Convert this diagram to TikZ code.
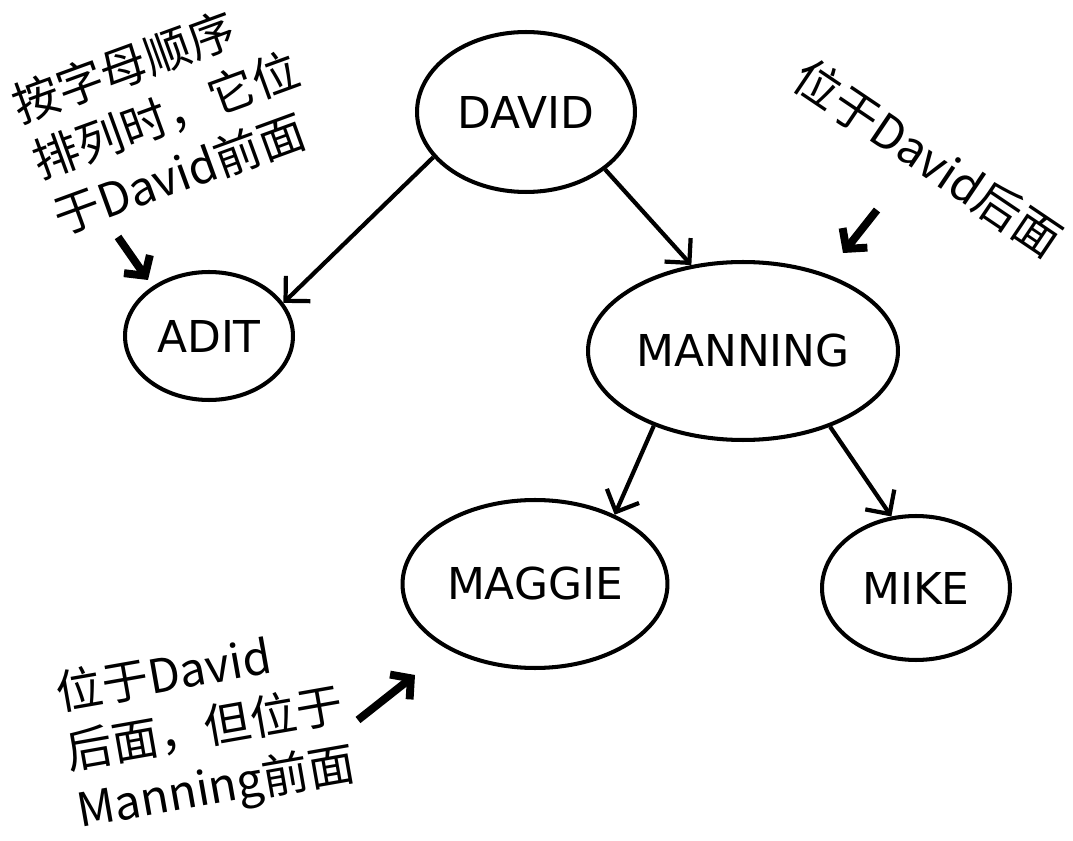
\documentclass[tikz,border=0pt]{standalone}
\usepackage{fontspec}
\setmainfont{DejaVu Sans}
\newfontfamily\cjk{Noto Sans CJK SC}
\usetikzlibrary{shapes.geometric,arrows.meta}
\tikzset{
  nme/.style={draw, ellipse, line width=2.3pt, inner sep=0pt, font=\fontsize{25}{30}\selectfont},
  lnk/.style={line width=2.4pt, -{Straight Barb[length=10pt, width=20pt]}},
  hint/.style={line width=4.5pt, -{Straight Barb[length=8pt, width=18pt]}},
  cmt/.style={font=\cjk\fontsize{26.5}{34}\selectfont, align=left, inner sep=0pt}}

\begin{document}
\begin{tikzpicture}[x=0.02cm, y=-0.02cm]
\useasboundingbox (0,0) rectangle (1073,841);
% name nodes
\node[nme, minimum width=4.36cm, minimum height=3.2cm] (david) at (526,112) {DAVID};
\node[nme, minimum width=3.36cm, minimum height=2.56cm] (adit) at (209,336) {ADIT};
\node[nme, minimum width=6.2cm, minimum height=3.56cm] (manning) at (743,351) {MANNING};
\node[nme, minimum width=5.3cm, minimum height=3.36cm] (maggie) at (535,584) {MAGGIE};
\node[nme, minimum width=3.76cm, minimum height=2.88cm] (mike) at (916,588) {MIKE};
\draw[lnk] (david.-154) -- (adit.24);
\draw[lnk] (david.-36) -- (manning.121);
\draw[lnk] (manning.-140) -- (maggie.41);
\draw[lnk] (manning.-41) -- (mike.109);
% notes
\node[cmt, rotate=20] (before) at (166,115) {按字母顺序\\排列时，它位\\于David前面};
\node[cmt, rotate=-34] (after) at (928,158) {位于David后面};
\node[cmt, rotate=10] (between) at (206,731) {位于David\\后面，但位于\\Manning前面};
\coordinate (b1) at (118,237); \coordinate (b2) at (148,280);
\coordinate (a1) at (877,210); \coordinate (a2) at (843,253);
\coordinate (m1) at (358,720); \coordinate (m2) at (415,675);
\draw[hint] (b1) -- (b2);
\draw[hint] (a1) -- (a2);
\draw[hint] (m1) -- (m2);
\end{tikzpicture}
\end{document}
